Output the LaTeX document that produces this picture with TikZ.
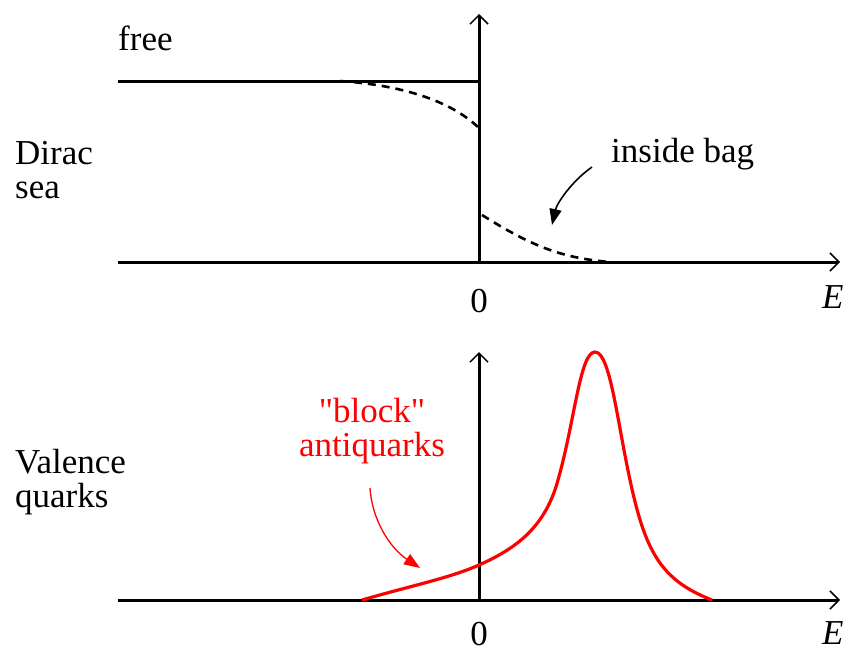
\documentclass[tikz,border=0pt]{standalone}
\usepackage{fontspec}
\setmainfont{Liberation Serif}[Ligatures=TeXOff]
\usetikzlibrary{arrows.meta}
\definecolor{curvered}{HTML}{FF0000}

\begin{document}
\begin{tikzpicture}[
    x=1pt, y=-1pt,
    lbl/.style={font=\fontsize{35}{34}\selectfont, inner sep=0pt, align=left},
    axis/.style={line width=3pt, -{Straight Barb[length=9pt,width=18pt,line width=1.5pt]}},
    level/.style={line width=3pt},
    fermi/.style={line width=2.6pt, dash pattern=on 8pt off 6pt},
    note/.style={line width=1.6pt, -{Triangle[length=16pt,width=12pt]}},
    peak/.style={line width=3.2pt, color=curvered}
  ]
  \useasboundingbox (0,0) rectangle (848,651);

  % upper panel: Dirac sea
  \coordinate (o1) at (479,262);
  \coordinate (x1) at (840,262);
  \coordinate (y1) at (479,14);
  \coordinate (h1) at (118,262);
  \coordinate (f1) at (118,81);
  \coordinate (f2) at (479,81);

  \node[lbl, anchor=base west] (free) at (118,50) {free};
  \node[lbl, anchor=west] (dirac) at (15,170) {Dirac\\sea};
  \node[lbl, anchor=base west] (bag) at (611,162) {inside bag};
  \node[lbl, anchor=base] (zero1) at (479,312) {0};
  \node[lbl, anchor=base west] (e1) at (822,308) {\itshape E};

  \draw[axis] (h1) -- (x1);
  \draw[axis] (o1) -- (y1);
  \draw[level] (f1) -- (f2);
  \draw[fermi] (340,81) .. controls (400,85) and (450,100) .. (479,128);
  \draw[fermi] (482,215) .. controls (530,245) and (560,258) .. (610,262);

  \coordinate (bagtail) at (592,167);
  \coordinate (bagtip) at (552,225);
  \draw[note] (bagtail) .. controls (572,181) and (557,203) .. (bagtip);

  % lower panel: valence quarks
  \coordinate (o2) at (479,600);
  \coordinate (x2) at (840,600);
  \coordinate (y2) at (479,352);
  \coordinate (h2) at (118,600);

  \node[lbl, anchor=west] (valence) at (15,482) {Valence\\quarks};
  \node[lbl, anchor=center, text=curvered, align=center] (block) at (372,431) {"block"\\antiquarks};
  \node[lbl, anchor=base] (zero2) at (479,645) {0};
  \node[lbl, anchor=base west] (e2) at (822,644) {\itshape E};

  \draw[axis] (h2) -- (x2);
  \draw[axis] (o2) -- (y2);
  \draw[peak] (362,600) .. controls (410,586) and (450,578) .. (479,565)
              .. controls (515,549) and (545,528) .. (558,480)
              .. controls (575,420) and (580,352) .. (595,352)
              .. controls (610,352) and (617,420) .. (630,480)
              .. controls (645,550) and (660,580) .. (712,600);

  \coordinate (blocktail) at (370,488);
  \coordinate (blocktip) at (420,568);
  \draw[note, color=curvered, line width=1.3pt] (blocktail) .. controls (372,520) and (390,548) .. (blocktip);
\end{tikzpicture}
\end{document}
